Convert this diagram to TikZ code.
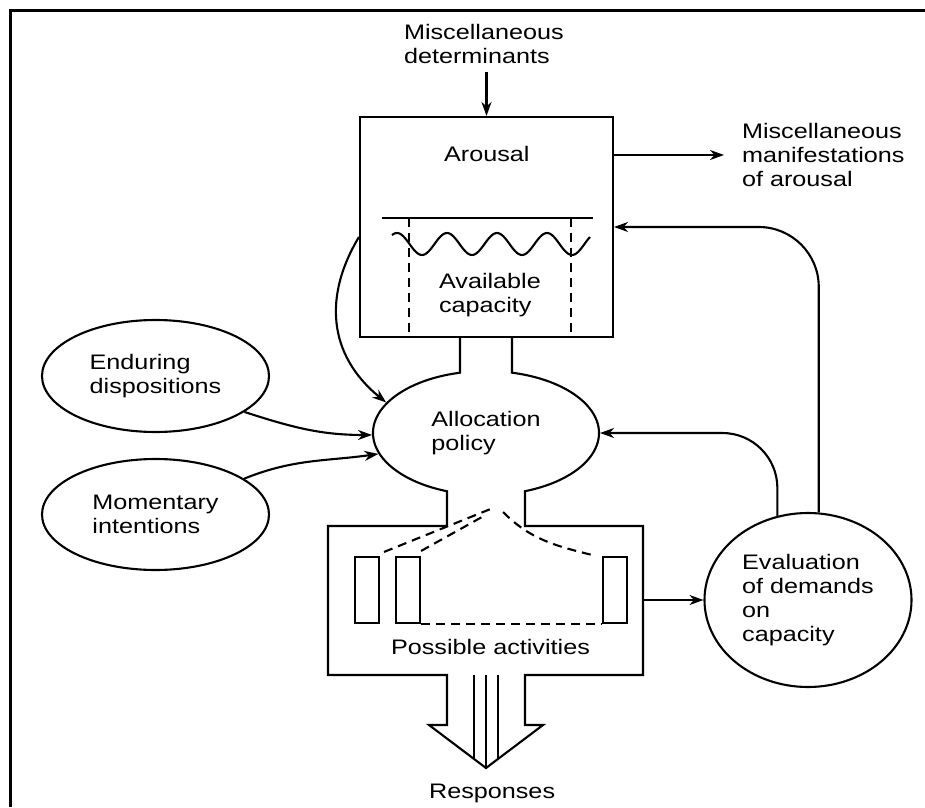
\documentclass[tikz,border=0pt]{standalone}
\usepackage{fontspec}
\setmainfont{Liberation Sans}[FakeStretch=1.2]
\usetikzlibrary{arrows.meta,shapes.geometric}

\begin{document}
\begin{tikzpicture}[x=1pt, y=1pt, line width=2.1pt,
    font=\fontsize{21}{24}\selectfont,
    lbl/.style={inner sep=0pt, align=left},
    oval/.style={draw, ellipse, inner sep=0pt, align=left},
    arr/.style={-{Stealth[length=14pt, width=10pt]}},
    dsh/.style={dash pattern=on 9pt off 6pt},
    bar/.style={draw, minimum width=24pt, minimum height=66pt, inner sep=0pt}]
  \useasboundingbox (0,0) rectangle (925,807);
  \draw[line width=3pt] (10,0) -- (10,796) -- (925,796);

  \node[draw, minimum width=253pt, minimum height=220pt, inner sep=0pt] (arousal) at (486.5,580) {};
  \node[lbl, anchor=west] (determ) at (403,763) {Miscellaneous\\determinants};
  \node[lbl, anchor=base west] (arousallbl) at (443,645) {Arousal};
  \node[lbl, anchor=west] (capacity) at (438,512) {Available\\capacity};
  \node[lbl, anchor=west] (manif) at (741,652) {Miscellaneous\\manifestations\\of arousal};
  \node[lbl, ellipse, minimum width=226pt, minimum height=124pt] (alloc) at (486,374) {Allocation\\policy};
  \node[oval, minimum width=227pt, minimum height=112pt] (endur) at (155.5,431) {Enduring\\dispositions};
  \node[oval, minimum width=227pt, minimum height=111pt] (moment) at (155.5,292.5) {Momentary\\intentions};
  \node[oval, minimum width=207pt, minimum height=174pt] (eval) at (808,207) {Evaluation\\of demands\\on\\capacity};
  \node[lbl, anchor=base west] (possible) at (390,153) {Possible activities};
  \node[lbl, anchor=base west] (responses) at (428,9) {Responses};
  \node[bar] (act1) at (367,217) {};
  \node[bar] (act2) at (408,217) {};
  \node[bar] (act3) at (615,217) {};
  \coordinate (actright) at (643,207);
  \coordinate (apex1) at (493,299);
  \coordinate (apex2) at (482,290);
  \coordinate (apex3) at (503,295);

  \draw (382,589) -- (593,589);
  \draw[dsh] (409,589) -- (409,470);
  \draw[dsh] (571,589) -- (571,470);
  \draw plot[domain=392:590, samples=120, smooth] (\x, {563+11*cos((\x-397)*7.2)});

  \draw (460,470) -- (460,434.3) arc[start angle=103.3, end angle=249.8, x radius=113, y radius=62]
    -- (447,281) -- (328,281) -- (328,132) -- (447,132) -- (447,82) -- (429,82) -- (486,39)
    -- (543,82) -- (525,82) -- (525,132) -- (643,132) -- (643,281) -- (525,281) -- (525,315.8)
    arc[start angle=-69.8, end angle=76.7, x radius=113, y radius=62] -- (512,470);
  \draw (474,132) -- (474,48);
  \draw (486,132) -- (486,39);
  \draw (498,132) -- (498,48);

  \draw[dsh] ([xshift=4pt, yshift=4pt]act1.north east) -- (apex1);
  \draw[dsh] ([yshift=5pt]act2.north east) -- (apex2);
  \draw[dsh] (apex3) to[out=-45, in=166] ([xshift=-10pt, yshift=1pt]act3.north west);
  \draw[dsh] (act2.south east) -- (act3.south west);

  \draw[arr, shorten <=7pt] (arousal.north |- determ.south) -- (arousal.north);
  \draw[arr, shorten >=17pt] (arousal.east |- manif.west) -- (manif.west);
  \draw[arr] ([yshift=-10pt]arousal.west) .. controls +(-35,-58) and +(-59,48) .. (alloc.163);
  \draw[arr] (endur.-22) to[out=-18, in=180] (alloc.181);
  \draw[arr] (moment.22) to[out=22, in=188] (alloc.191);
  \draw[arr] (actright) -- (actright -| eval.west);
  \draw[arr, rounded corners=55pt] (eval.110) |- (alloc.east);
  \draw[arr, rounded corners=60pt] (eval.83) |- (arousal.east);
\end{tikzpicture}
\end{document}
